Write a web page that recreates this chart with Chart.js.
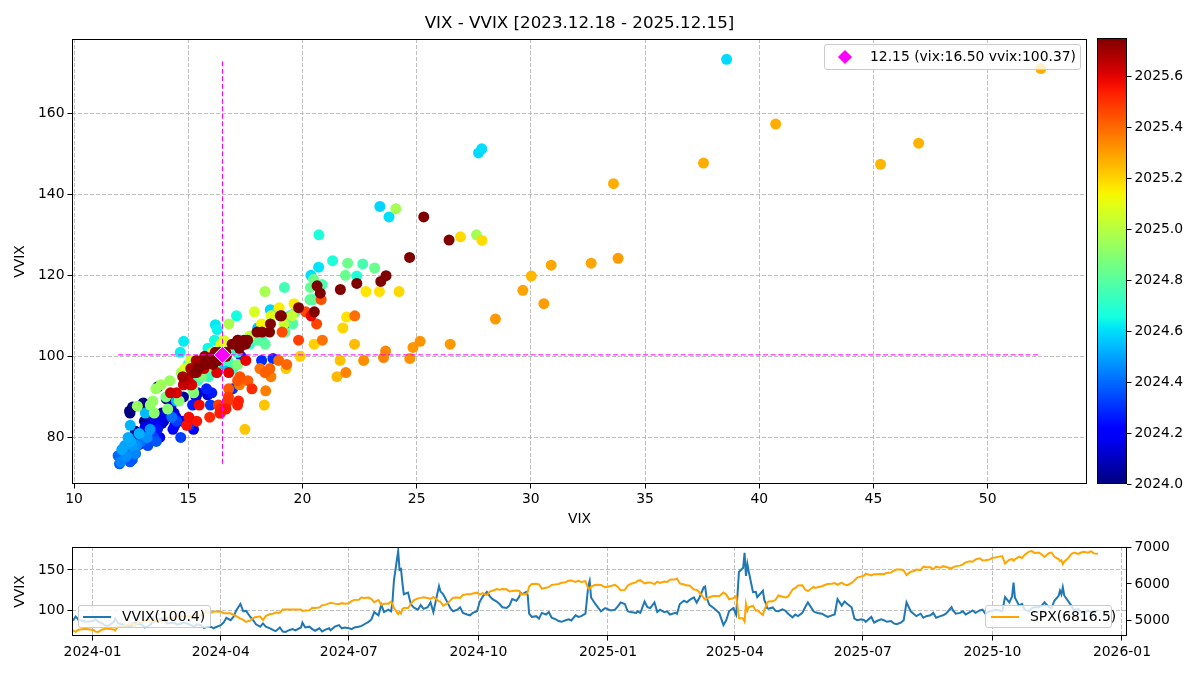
<!DOCTYPE html>
<html>
<head>
<meta charset="utf-8">
<script src="https://cdn.jsdelivr.net/npm/chart.js@4.4.1/dist/chart.umd.min.js"></script>
<style>
  body { margin: 0; background: #fff; font-family: 'DejaVu Sans', sans-serif; }
  #wrap { position: relative; width: 1200px; height: 675px; overflow: hidden; }
  canvas { position: absolute; }
  .lg { position: absolute; box-sizing: border-box; background: rgba(255,255,255,0.8);
        border: 1px solid #cccccc; border-radius: 3px; font-size: 13.9px; color: #000; }
  .lg span { position: absolute; white-space: nowrap; }
  .dia { width: 10px; height: 10px; background: #ff00ff; transform: rotate(45deg); }
  .ln { width: 28px; height: 0; }
</style>
</head>
<body>
<div id="wrap">
  <canvas id="scatter" width="1159" height="535" style="left:0;top:0"></canvas>
  <canvas id="cbar" width="110" height="535" style="left:1090px;top:0"></canvas>
  <canvas id="lines" width="1200" height="140" style="left:0;top:535px"></canvas>
  <div class="lg" style="left:824px;top:44px;width:257px;height:26px">
    <span class="dia" style="left:15px;top:7px"></span>
    <span id="lgTop" style="left:45px;top:3px"></span>
  </div>
  <div class="lg" style="left:78px;top:605px;width:133px;height:23px">
    <span class="ln" style="left:4px;top:10px;border-top:2px solid #1f77b4"></span>
    <span id="lgVvix" style="left:43px;top:2px"></span>
  </div>
  <div class="lg" style="left:985px;top:605px;width:127px;height:23px">
    <span class="ln" style="left:5px;top:10px;border-top:2px solid #ffa500"></span>
    <span id="lgSpx" style="left:44px;top:2px"></span>
  </div>
</div>
<script>
// trading days sampled (Mon/Wed/Fri + big move days), one line per month
const dates = [
  '2023-12-18','2023-12-20','2023-12-22','2023-12-27','2023-12-29',
  '2024-01-02','2024-01-03','2024-01-05','2024-01-08','2024-01-10','2024-01-12','2024-01-16','2024-01-17','2024-01-19','2024-01-22','2024-01-24','2024-01-26','2024-01-29','2024-01-31',
  '2024-02-02','2024-02-05','2024-02-07','2024-02-09','2024-02-12','2024-02-13','2024-02-14','2024-02-16','2024-02-20','2024-02-21','2024-02-23','2024-02-26','2024-02-28',
  '2024-03-01','2024-03-04','2024-03-06','2024-03-08','2024-03-11','2024-03-13','2024-03-15','2024-03-18','2024-03-20','2024-03-22','2024-03-25','2024-03-27','2024-03-28',
  '2024-04-01','2024-04-03','2024-04-05','2024-04-08','2024-04-10','2024-04-12','2024-04-15','2024-04-17','2024-04-19','2024-04-22','2024-04-24','2024-04-26','2024-04-29',
  '2024-05-01','2024-05-03','2024-05-06','2024-05-08','2024-05-10','2024-05-13','2024-05-15','2024-05-17','2024-05-20','2024-05-22','2024-05-24','2024-05-28','2024-05-29','2024-05-31',
  '2024-06-03','2024-06-05','2024-06-07','2024-06-10','2024-06-12','2024-06-14','2024-06-17','2024-06-18','2024-06-21','2024-06-24','2024-06-26','2024-06-28',
  '2024-07-01','2024-07-03','2024-07-05','2024-07-08','2024-07-10','2024-07-12','2024-07-15','2024-07-17','2024-07-19','2024-07-22','2024-07-24','2024-07-26','2024-07-29','2024-07-31',
  '2024-08-01','2024-08-02','2024-08-05','2024-08-06','2024-08-07','2024-08-08','2024-08-09','2024-08-12','2024-08-14','2024-08-16','2024-08-19','2024-08-21','2024-08-23','2024-08-26','2024-08-28','2024-08-30',
  '2024-09-03','2024-09-04','2024-09-06','2024-09-09','2024-09-11','2024-09-13','2024-09-16','2024-09-18','2024-09-20','2024-09-23','2024-09-25','2024-09-27','2024-09-30',
  '2024-10-02','2024-10-04','2024-10-07','2024-10-09','2024-10-11','2024-10-14','2024-10-16','2024-10-18','2024-10-21','2024-10-23','2024-10-25','2024-10-28','2024-10-30','2024-10-31',
  '2024-11-01','2024-11-04','2024-11-05','2024-11-06','2024-11-08','2024-11-11','2024-11-13','2024-11-15','2024-11-18','2024-11-20','2024-11-22','2024-11-25','2024-11-27','2024-11-29',
  '2024-12-02','2024-12-04','2024-12-06','2024-12-09','2024-12-11','2024-12-13','2024-12-16','2024-12-18','2024-12-19','2024-12-20','2024-12-23','2024-12-27','2024-12-30',
  '2025-01-03','2025-01-06','2025-01-08','2025-01-10','2025-01-13','2025-01-15','2025-01-17','2025-01-21','2025-01-22','2025-01-24','2025-01-27','2025-01-29','2025-01-31',
  '2025-02-03','2025-02-05','2025-02-07','2025-02-10','2025-02-12','2025-02-14','2025-02-18','2025-02-19','2025-02-21','2025-02-24','2025-02-26','2025-02-28',
  '2025-03-03','2025-03-05','2025-03-07','2025-03-10','2025-03-11','2025-03-12','2025-03-14','2025-03-17','2025-03-19','2025-03-21','2025-03-24','2025-03-26','2025-03-28','2025-03-31',
  '2025-04-02','2025-04-03','2025-04-04','2025-04-07','2025-04-08','2025-04-09','2025-04-10','2025-04-11','2025-04-14','2025-04-16','2025-04-17','2025-04-21','2025-04-22','2025-04-23','2025-04-24','2025-04-25','2025-04-28','2025-04-30',
  '2025-05-02','2025-05-05','2025-05-07','2025-05-09','2025-05-12','2025-05-14','2025-05-16','2025-05-19','2025-05-21','2025-05-23','2025-05-27','2025-05-28','2025-05-30',
  '2025-06-02','2025-06-04','2025-06-06','2025-06-09','2025-06-11','2025-06-13','2025-06-16','2025-06-18','2025-06-20','2025-06-23','2025-06-25','2025-06-27','2025-06-30',
  '2025-07-02','2025-07-03','2025-07-07','2025-07-09','2025-07-11','2025-07-14','2025-07-16','2025-07-18','2025-07-21','2025-07-23','2025-07-25','2025-07-28','2025-07-30',
  '2025-08-01','2025-08-04','2025-08-06','2025-08-08','2025-08-11','2025-08-13','2025-08-15','2025-08-18','2025-08-20','2025-08-22','2025-08-25','2025-08-27','2025-08-29',
  '2025-09-02','2025-09-03','2025-09-05','2025-09-08','2025-09-10','2025-09-12','2025-09-15','2025-09-17','2025-09-19','2025-09-22','2025-09-24','2025-09-26','2025-09-29',
  '2025-10-01','2025-10-03','2025-10-06','2025-10-08','2025-10-10','2025-10-13','2025-10-15','2025-10-16','2025-10-17','2025-10-20','2025-10-22','2025-10-24','2025-10-27','2025-10-29','2025-10-31',
  '2025-11-03','2025-11-05','2025-11-07','2025-11-10','2025-11-12','2025-11-14','2025-11-17','2025-11-18','2025-11-19','2025-11-20','2025-11-21','2025-11-24','2025-11-26','2025-11-28',
  '2025-12-01','2025-12-03','2025-12-05','2025-12-08','2025-12-10','2025-12-12','2025-12-15'
];
const vix = [
  12.56,13.67,13.03,12.43,12.45,
  13.20,14.04,13.35,13.08,12.69,12.70,13.84,14.79,13.30,13.19,13.14,13.26,13.60,14.35,
  13.85,13.67,12.79,12.93,13.93,15.85,14.38,14.24,15.42,15.34,13.75,13.74,13.84,
  13.11,13.49,14.46,14.74,15.23,13.75,14.41,14.33,12.92,13.06,13.19,12.78,13.01,
  13.65,14.33,16.03,15.19,15.80,17.31,19.23,18.21,18.71,16.94,15.97,15.03,14.67,
  14.49,13.49,13.23,12.69,12.55,13.60,12.45,11.99,12.15,12.29,11.93,12.92,14.28,12.92,
  13.11,12.63,12.22,12.74,12.04,12.66,12.75,12.30,13.20,13.33,12.55,12.44,
  12.22,12.09,12.48,12.37,12.85,12.46,13.12,14.48,16.52,14.91,18.04,16.39,16.60,16.36,
  18.59,23.39,38.57,27.71,27.85,23.79,20.37,20.71,16.19,14.80,14.65,16.27,15.86,16.15,17.11,15.00,
  20.72,21.32,22.38,19.45,17.69,16.56,17.14,18.23,16.15,15.89,15.41,16.96,16.73,
  18.90,19.21,22.64,20.86,20.46,19.70,19.58,18.03,18.37,19.24,20.33,19.80,20.35,23.16,
  21.88,21.98,20.49,16.27,15.20,14.97,14.02,16.14,15.58,17.16,15.24,14.60,14.10,13.51,
  13.34,13.45,12.77,14.19,13.58,13.81,14.69,27.62,24.09,18.36,16.78,15.95,17.40,
  16.13,16.04,17.70,19.54,19.19,16.12,15.97,15.06,15.10,14.85,17.90,16.56,16.43,
  18.62,15.77,16.54,15.81,15.89,14.77,15.35,15.27,18.21,18.98,19.10,19.63,
  22.78,21.93,23.37,27.86,26.92,24.23,21.77,20.51,19.90,19.28,17.48,18.33,21.65,22.28,
  21.51,30.02,45.31,46.98,52.33,33.62,40.72,37.56,30.89,32.64,29.65,33.82,30.57,28.45,26.47,24.84,25.15,24.70,
  22.68,23.64,23.55,21.90,18.39,18.62,17.24,18.14,20.87,22.29,18.96,19.31,18.57,
  18.36,17.61,16.77,17.16,17.26,20.82,19.11,20.14,20.62,19.83,16.76,16.32,16.73,
  16.64,16.38,17.79,15.94,16.40,17.20,17.16,16.41,16.65,15.37,14.93,15.03,15.48,
  20.38,17.52,16.77,15.15,16.25,14.49,15.09,15.00,15.69,14.22,14.79,14.85,15.36,
  17.17,16.35,15.18,15.11,15.35,14.76,15.69,15.72,15.45,16.10,16.18,15.29,16.12,
  16.29,16.65,16.37,16.30,21.66,19.03,20.64,25.31,20.78,18.23,18.60,16.37,15.79,16.92,17.44,
  17.17,18.01,19.08,17.60,17.51,19.83,22.38,24.69,23.66,26.42,23.43,20.52,18.56,16.35,
  17.24,16.08,15.41,16.66,15.77,15.74,16.50
];
const vvix = [
  87.5,92.5,88.5,86.5,86.0,
  87.5,89.5,86.0,84.0,81.5,81.0,86.0,90.0,84.5,83.0,80.5,80.0,81.0,85.5,
  83.5,82.5,79.0,80.0,84.0,90.5,86.0,87.5,91.0,90.0,84.0,84.5,85.0,
  82.5,84.0,85.0,84.0,82.0,80.0,83.0,82.0,78.5,79.5,80.0,78.0,79.0,
  82.0,85.0,91.0,88.0,92.0,100.0,108.0,99.0,99.5,92.0,88.0,83.0,80.0,
  84.0,80.0,78.0,76.0,74.5,79.0,74.0,73.5,76.0,77.0,75.5,79.0,85.0,79.0,
  80.0,77.0,75.0,78.0,74.0,76.0,78.0,75.5,80.0,82.0,78.0,79.0,
  78.0,77.0,79.0,80.0,81.0,83.0,86.0,89.0,98.0,94.0,107.0,98.0,101.0,99.0,
  111.5,137.0,173.3,150.2,151.2,134.4,120.0,122.0,107.8,103.7,101.0,106.6,102.0,104.0,110.0,98.0,
  130.0,123.6,119.8,110.0,103.0,99.0,101.0,104.0,97.0,95.0,94.0,97.0,99.0,
  111.0,117.0,122.8,117.7,114.0,111.0,108.0,104.0,103.0,106.0,114.0,112.0,117.0,121.8,
  120.0,123.0,119.0,96.0,92.0,93.0,90.0,97.0,95.0,98.0,91.0,89.0,87.0,86.0,
  88.0,89.0,87.7,94.0,92.0,93.0,96.0,130.0,136.4,116.0,108.0,99.0,103.0,
  100.0,101.0,105.0,110.0,108.0,99.0,98.0,97.0,99.0,97.0,111.0,104.0,103.0,
  110.0,98.0,101.0,98.0,99.0,95.0,97.0,96.0,108.0,112.0,110.0,113.0,
  116.0,109.7,116.0,128.6,129.5,116.0,107.0,103.0,100.0,97.0,82.0,88.0,99.0,103.0,
  95.0,119.8,147.4,152.6,171.0,142.6,157.3,147.7,122.5,123.0,116.3,124.2,113.0,109.2,103.0,102.2,103.7,99.5,
  99.0,101.3,99.7,96.0,91.5,95.0,93.0,97.0,104.0,110.0,99.0,98.0,97.0,
  96.0,94.0,92.0,94.0,95.0,114.0,106.0,111.0,108.0,104.0,90.0,88.0,89.0,
  88.0,86.0,92.0,85.0,87.0,89.0,88.0,86.0,87.0,84.0,83.0,85.0,88.0,
  110.0,99.0,96.0,93.0,96.0,91.0,93.0,94.0,97.0,91.0,93.0,94.0,96.0,
  104.0,100.0,96.0,97.0,99.0,95.0,98.0,100.0,97.0,100.0,101.0,96.0,99.0,
  99.0,101.0,100.0,99.0,116.5,110.0,117.4,134.4,115.6,106.0,108.0,101.0,99.0,103.0,104.0,
  104.0,106.0,110.0,104.0,103.0,112.0,118.0,124.4,119.9,128.7,118.5,111.0,106.0,100.0,
  102.0,98.0,97.0,100.0,98.0,99.0,100.37
];
const spx = [
  4740,4698,4755,4781,4770,
  4743,4705,4697,4764,4783,4784,4766,4739,4840,4851,4869,4891,4928,4846,
  4959,4942,4995,5027,5022,4954,5001,5006,4976,4982,5089,5070,5070,
  5137,5131,5105,5124,5117,5165,5117,5149,5225,5234,5218,5248,5254,
  5243,5211,5204,5202,5161,5123,5061,5022,4967,5010,5071,5100,5116,
  5018,5128,5181,5187,5223,5221,5308,5303,5308,5307,5305,5306,5267,5278,
  5283,5354,5347,5361,5421,5431,5473,5487,5465,5448,5478,5460,
  5475,5537,5567,5572,5633,5615,5631,5589,5505,5564,5427,5459,5464,5522,
  5446,5347,5186,5240,5199,5319,5344,5344,5455,5554,5608,5621,5635,5617,5592,5648,
  5529,5520,5408,5471,5554,5626,5633,5618,5703,5719,5722,5738,5762,
  5709,5751,5696,5792,5815,5859,5842,5864,5853,5797,5808,5824,5813,5705,
  5729,5712,5782,5929,5996,6001,5985,5871,5893,5917,5969,5987,5999,6032,
  6047,6086,6090,6053,6084,6051,6074,5872,5867,5931,5974,5971,5907,
  5942,5975,5918,5827,5837,5950,5997,6049,6086,6101,6012,6039,6041,
  5994,6061,6026,6066,6052,6115,6129,6144,6013,5983,5956,5955,
  5850,5843,5770,5615,5573,5599,5639,5675,5675,5668,5768,5712,5581,5612,
  5671,5397,5074,5062,4982,5457,5268,5363,5406,5276,5283,5158,5287,5376,5485,5525,5529,5569,
  5687,5650,5631,5660,5844,5892,5958,5964,5845,5803,5922,5889,5912,
  5936,5970,6000,6006,6022,5977,6033,5981,5967,6025,6092,6173,6205,
  6227,6279,6230,6263,6260,6269,6264,6297,6306,6359,6389,6390,6363,
  6238,6329,6345,6389,6374,6466,6450,6449,6396,6467,6439,6481,6460,
  6416,6448,6482,6495,6532,6584,6615,6600,6664,6694,6638,6644,6661,
  6711,6716,6740,6753,6553,6655,6671,6630,6664,6736,6699,6792,6875,6891,6840,
  6852,6796,6729,6832,6851,6734,6672,6617,6642,6538,6603,6705,6813,6849,
  6812,6850,6870,6846,6887,6827,6816.5
];
const monthTicks = ['2024-01','2024-04','2024-07','2024-10','2025-01','2025-04','2025-07','2025-10','2026-01'];
const vvixTicks = [100, 150];
const spxTicks = [5000, 6000, 7000];
const cbarTicks = [2024.0, 2024.2, 2024.4, 2024.6, 2024.8, 2025.0, 2025.2, 2025.4, 2025.6];
const cMin = 2024.0, cMax = 2025.75;

Chart.defaults.font.family = "'DejaVu Sans', sans-serif";
Chart.defaults.font.size = 13.9;
Chart.defaults.color = '#000';

// matplotlib jet colormap
function seg(t, pts) {
  for (let i = 1; i < pts.length; i++) {
    if (t <= pts[i][0]) {
      const [x0, y0] = pts[i - 1], [x1, y1] = pts[i];
      return y0 + (y1 - y0) * (t - x0) / (x1 - x0);
    }
  }
  return pts[pts.length - 1][1];
}
function jet(t) {
  t = Math.min(1, Math.max(0, t));
  const r = seg(t, [[0, 0], [0.35, 0], [0.66, 1], [0.89, 1], [1, 0.5]]);
  const g = seg(t, [[0, 0], [0.125, 0], [0.375, 1], [0.64, 1], [0.91, 0], [1, 0]]);
  const b = seg(t, [[0, 0.5], [0.11, 1], [0.34, 1], [0.65, 0], [1, 0]]);
  return `rgb(${Math.round(r * 255)},${Math.round(g * 255)},${Math.round(b * 255)})`;
}
function toMs(s) { return Date.parse(s + 'T00:00:00Z'); }
function decYear(s) {
  const y = +s.slice(0, 4), a = Date.UTC(y, 0, 1), b = Date.UTC(y + 1, 0, 1);
  return y + (toMs(s) - a) / (b - a);
}
function padRange(arr) {
  const lo = Math.min(...arr), hi = Math.max(...arr), p = (hi - lo) * 0.05;
  return [lo - p, hi + p];
}

const frame = {
  id: 'frame',
  afterDraw(c) {
    const a = c.chartArea, ctx = c.ctx;
    ctx.save();
    ctx.strokeStyle = '#000';
    ctx.lineWidth = 1;
    ctx.strokeRect(Math.round(a.left) + 0.5, Math.round(a.top) + 0.5,
                   Math.round(a.right - a.left) - 1, Math.round(a.bottom - a.top) - 1);
    ctx.restore();
  }
};

const n = dates.length;
const lastDate = dates[n - 1], lastVix = vix[n - 1], lastVvix = vvix[n - 1], lastSpx = spx[n - 1];
const fmtDay = s => s.replace(/-/g, '.');
document.getElementById('lgTop').textContent =
  `${lastDate.slice(5).replace('-', '.')} (vix:${lastVix.toFixed(2)} vvix:${lastVvix.toFixed(2)})`;
document.getElementById('lgVvix').textContent = `VVIX(${lastVvix.toFixed(1)})`;
document.getElementById('lgSpx').textContent = `SPX(${lastSpx.toFixed(1)})`;

const gridStyle = { color: '#b0b0b0', lineWidth: 0.8, tickLength: 4.5, tickColor: '#000', tickWidth: 1 };
const [vxMin, vxMax] = padRange(vix);
const [vvMin, vvMax] = padRange(vvix);

// ---- scatter VIX vs VVIX ----
new Chart(document.getElementById('scatter'), {
  type: 'scatter',
  data: {
    datasets: [
      {
        data: vix.map((v, i) => ({ x: v, y: vvix[i] })),
        pointBackgroundColor: dates.map(d => jet((decYear(d) - cMin) / (cMax - cMin))),
        pointBorderWidth: 0, pointRadius: 5.5, order: 4
      },
      {
        data: [{ x: lastVix, y: Math.min(...vvix) }, { x: lastVix, y: Math.max(...vvix) }],
        showLine: true, borderColor: '#ff00ff', borderWidth: 1, borderDash: [5, 2.5], pointRadius: 0, order: 3
      },
      {
        data: [{ x: Math.min(...vix), y: lastVvix }, { x: Math.max(...vix), y: lastVvix }],
        showLine: true, borderColor: '#ff00ff', borderWidth: 1, borderDash: [5, 2.5], pointRadius: 0, order: 2
      },
      {
        data: [{ x: lastVix, y: lastVvix }],
        pointStyle: 'rectRot', pointRadius: 8.5, pointBackgroundColor: '#ff00ff',
        pointBorderColor: '#ffffff', pointBorderWidth: 1, order: 1
      }
    ]
  },
  options: {
    responsive: false, animation: false, events: [],
    plugins: {
      legend: { display: false }, tooltip: { enabled: false },
      title: {
        display: true, text: `VIX - VVIX [${fmtDay(dates[0])} - ${fmtDay(lastDate)}]`,
        color: '#000', font: { size: 16.7, weight: 'normal' }, padding: { top: 14, bottom: 5 }
      }
    },
    scales: {
      x: {
        type: 'linear', min: vxMin, max: vxMax,
        afterFit: s => { s.height = 51; },
        ticks: { stepSize: 5, includeBounds: false, padding: 3, maxRotation: 0 },
        grid: gridStyle, border: { display: false, dash: [4, 2] },
        title: { display: true, text: 'VIX', padding: { top: 0, bottom: 7 } }
      },
      y: {
        type: 'linear', min: vvMin, max: vvMax,
        afterFit: s => { s.width = 72; },
        ticks: { stepSize: 20, includeBounds: false, padding: 3 },
        grid: gridStyle, border: { display: false, dash: [4, 2] },
        title: { display: true, text: 'VVIX', padding: { top: 12.5, bottom: 0 } }
      },
      yr: {
        type: 'linear', position: 'right', afterFit: s => { s.width = 72; },
        ticks: { display: false }, grid: { display: false }, border: { display: false }
      }
    }
  },
  plugins: [frame]
});

// ---- colour bar ----
new Chart(document.getElementById('cbar'), {
  type: 'bar',
  data: {
    labels: ['date'],
    datasets: [{
      data: [[cMin, cMax]], borderWidth: 0, barPercentage: 1, categoryPercentage: 1,
      backgroundColor: c => {
        const a = c.chart.chartArea;
        if (!a) return '#000';
        const g = c.chart.ctx.createLinearGradient(0, a.bottom, 0, a.top);
        for (let i = 0; i <= 40; i++) g.addColorStop(i / 40, jet(i / 40));
        return g;
      }
    }]
  },
  options: {
    responsive: false, animation: false, events: [],
    layout: { padding: { left: 7, top: 38, bottom: 51, right: 0 } },
    plugins: { legend: { display: false }, tooltip: { enabled: false } },
    scales: {
      x: { display: false },
      y: {
        position: 'right', min: cMin, max: cMax,
        afterFit: s => { s.width = 73; },
        afterBuildTicks: s => { s.ticks = cbarTicks.map(v => ({ value: v })); },
        ticks: { callback: v => Number(v).toFixed(1), padding: 3 },
        grid: { drawOnChartArea: false, tickLength: 4.5, tickColor: '#000', tickWidth: 1 },
        border: { display: false }
      }
    }
  },
  plugins: [frame]
});

// ---- VVIX and SPX through time ----
const xs = dates.map(toMs);
const [spMin, spMax] = padRange(spx);
new Chart(document.getElementById('lines'), {
  type: 'line',
  data: {
    datasets: [
      { label: 'SPX', data: xs.map((t, i) => ({ x: t, y: spx[i] })), yAxisID: 'y2',
        borderColor: '#ffa500', borderWidth: 2, pointRadius: 0, order: 0 },
      { label: 'VVIX', data: xs.map((t, i) => ({ x: t, y: vvix[i] })), yAxisID: 'y',
        borderColor: '#1f77b4', borderWidth: 2, pointRadius: 0, order: 1 }
    ]
  },
  options: {
    responsive: false, animation: false, events: [],
    layout: { padding: { top: 12 } },
    plugins: { legend: { display: false }, tooltip: { enabled: false } },
    scales: {
      x: {
        type: 'linear', min: Date.UTC(2023, 11, 17, 9), max: Date.UTC(2026, 0, 4, 14),
        afterFit: s => { s.height = 39; },
        afterBuildTicks: s => { s.ticks = monthTicks.map(m => ({ value: toMs(m + '-01') })); },
        ticks: { callback: v => monthTicks.find(m => toMs(m + '-01') === v) || '', padding: 4, maxRotation: 0, autoSkip: false },
        grid: gridStyle, border: { display: false, dash: [4, 2] }
      },
      y: {
        position: 'left', min: vvMin, max: vvMax,
        afterFit: s => { s.width = 72; },
        afterBuildTicks: s => { s.ticks = vvixTicks.map(v => ({ value: v })); },
        ticks: { padding: 3, callback: v => String(v) },
        grid: gridStyle, border: { display: false, dash: [4, 2] },
        title: { display: true, text: 'VVIX', padding: { top: 12.5, bottom: 0 } }
      },
      y2: {
        position: 'right', min: spMin, max: spMax,
        afterFit: s => { s.width = 73; },
        afterBuildTicks: s => { s.ticks = spxTicks.map(v => ({ value: v })); },
        ticks: { padding: 3, callback: v => String(v) },
        grid: { drawOnChartArea: false, tickLength: 4.5, tickColor: '#000', tickWidth: 1 },
        border: { display: false }
      }
    }
  },
  plugins: [frame]
});
</script>
</body>
</html>
